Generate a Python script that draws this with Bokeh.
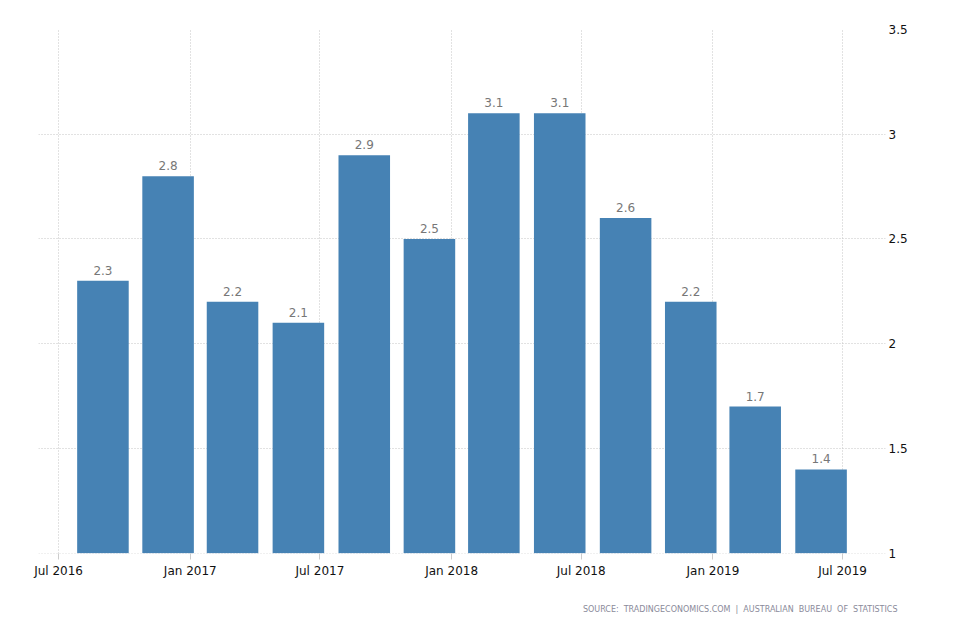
from datetime import datetime
from bokeh.plotting import figure
from bokeh.models import (ColumnDataSource, MonthsTicker, DatetimeTickFormatter,
                          CustomJSTickFormatter, Range1d, Title, FixedTicker)
from bokeh.embed import file_html
from bokeh.resources import INLINE
from bokeh.core.properties import value

# ---- data ----
quarters = ["2016-09-01", "2016-12-01", "2017-03-01", "2017-06-01", "2017-09-01",
            "2017-12-01", "2018-03-01", "2018-06-01", "2018-09-01", "2018-12-01",
            "2019-03-01", "2019-06-01"]
values = [2.3, 2.8, 2.2, 2.1, 2.9, 2.5, 3.1, 3.1, 2.6, 2.2, 1.7, 1.4]
labels = [f"{v:g}" for v in values]
y_ticks = [1, 1.5, 2, 2.5, 3, 3.5]
source_text = "SOURCE:\u00a0 TRADINGECONOMICS.COM\u00a0 |\u00a0 AUSTRALIAN\u00a0 BUREAU\u00a0 OF\u00a0 STATISTICS"

dates = [datetime.strptime(d, "%Y-%m-%d") for d in quarters]
src = ColumnDataSource(dict(x=dates, top=values, label=labels))

DAY = 24 * 3600 * 1000
p = figure(width=954, height=636, output_backend="svg", toolbar_location=None,
           x_axis_type="datetime", y_axis_location="right",
           x_range=Range1d(datetime(2016, 6, 3), datetime(2019, 8, 30)),
           y_range=Range1d(0.9985, 3.5),
           min_border_left=38, min_border_right=69, min_border_top=29, min_border_bottom=83)
p.outline_line_color = None
p.background_fill_color = "white"

p.vbar(x="x", top="top", bottom=1, width=72 * DAY, source=src,
       fill_color="#4682B4", line_color=None)
p.text(x="x", y="top", text="label", source=src, text_align="center",
       text_baseline="bottom", y_offset=-6, text_font=value("DejaVu Sans"),
       text_font_size="12px", text_color="#777777")

# x axis
xa = p.xaxis[0]
xa.ticker = MonthsTicker(months=[0, 6])
xa.formatter = DatetimeTickFormatter(months="%b %Y", years="%b %Y", days="%b %Y")
xa.axis_line_color = None
xa.major_tick_line_color = "#cccccc"
xa.major_tick_out = 6
xa.major_tick_in = 0
xa.minor_tick_line_color = None
xa.major_label_text_font = "DejaVu Sans"
xa.major_label_text_font_size = "12px"
xa.major_label_text_color = "#111111"
xa.major_label_standoff = 4

# y axis
ya = p.yaxis[0]
ya.ticker = FixedTicker(ticks=y_ticks)
ya.formatter = CustomJSTickFormatter(code="return tick.toString();")
ya.axis_line_color = None
ya.major_tick_line_color = None
ya.minor_tick_line_color = None
ya.major_tick_out = 0
ya.major_tick_in = 0
ya.major_label_standoff = 3
ya.major_label_text_font = "DejaVu Sans"
ya.major_label_text_font_size = "12px"
ya.major_label_text_color = "#111111"

p.xgrid.ticker = MonthsTicker(months=[0, 6])
for g in (p.xgrid[0], p.ygrid[0]):
    g.grid_line_color = "#c4c4c4"
    g.grid_line_dash = "1 2"
    g.grid_line_width = 1

src_title = Title(text=source_text, align="right", text_font="DejaVu Sans",
                  text_font_size="8px", text_font_style="normal",
                  text_color="#8a8a9a", standoff=44, offset=-12)
p.add_layout(src_title, "below")

open("out.html", "w").write(file_html(p, INLINE))
